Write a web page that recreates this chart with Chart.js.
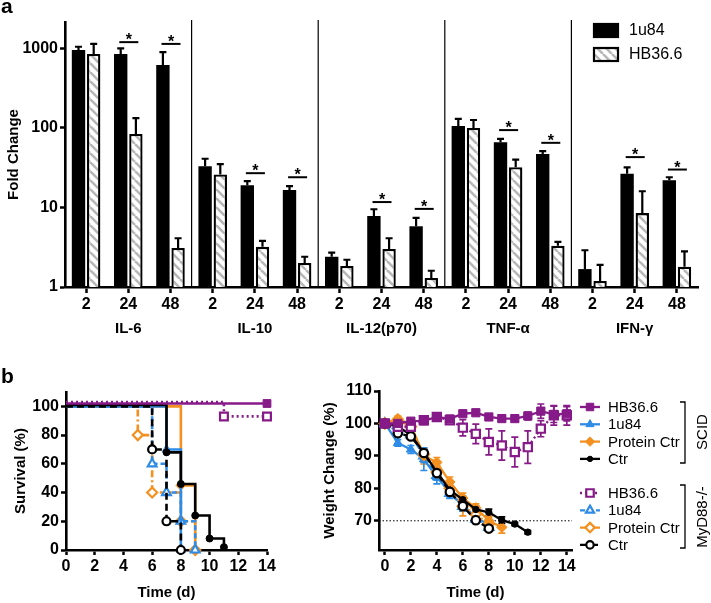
<!DOCTYPE html>
<html><head><meta charset="utf-8">
<script src="https://cdn.jsdelivr.net/npm/chart.js@4.4.1/dist/chart.umd.min.js"></script>
<style>
html,body{margin:0;padding:0;background:#fff;}
#wrap{position:relative;width:711px;height:603px;overflow:hidden;font-family:"Liberation Sans",Arial,sans-serif;}
canvas{position:absolute;}
.lbl{position:absolute;font-weight:bold;font-size:21px;line-height:21px;color:#000;}
</style></head><body>
<div id="wrap">
<canvas id="cA" width="711" height="345" style="left:0;top:0"></canvas>
<canvas id="cB" width="300" height="258" style="left:0;top:345px"></canvas>
<canvas id="cC" width="411" height="258" style="left:300px;top:345px"></canvas>
<div class="lbl" style="left:1px;top:-5px">a</div>
<div class="lbl" style="left:1px;top:365px">b</div>
</div>
<script>
// ---------------- Panel a data ----------------
const groups = ['IL-6', 'IL-10', 'IL-12(p70)', 'TNF-α', 'IFN-γ'];
const timepoints = ['2', '24', '48'];
const u84Mean  = [955, 850, 620, 33, 19, 16.6, 2.4, 7.8, 5.8, 106, 66, 47, 1.68, 26.5, 22];
const u84Upper = [1050, 1000, 900, 41, 21.5, 18.6, 2.7, 9.5, 7.4, 130, 73, 51, 2.9, 32, 24];
const hbMean   = [850, 84, 3.1, 26, 3.2, 2.0, 1.84, 3.0, 1.3, 100, 32, 3.3, 1.19, 8.5, 1.8];
const hbUpper  = [1140, 133, 4.1, 35, 3.8, 2.4, 2.2, 4.1, 1.6, 126, 40, 3.7, 1.9, 16, 2.8];
const sigLevel = [null, 1200, 1140, null, 27, 24, null, 11.7, 9.6, null, 94, 65, null, 43, 30];
const foldTicks = [1, 10, 100, 1000];

// ---------------- Panel b (survival) data ----------------
const survScidHB_t = [0, 14],               survScidHB_v = [102, 102];
const survMyHB_t   = [0, 11, 14],           survMyHB_v   = [103, 93, 93];
const survScidU84_t = [0, 7, 8],            survScidU84_v = [100, 70, 0];
const survMyU84_t  = [0, 6, 7, 8, 9],       survMyU84_v  = [100, 60, 40, 20, 0];
const survScidProt_t = [0, 8, 9],           survScidProt_v = [100, 45, 0];
const survMyProt_t = [0, 5, 6, 8, 9],       survMyProt_v = [100, 80, 40, 20, 0];
const survScidCtr_t = [0, 7, 8, 9, 10, 11], survScidCtr_v = [101, 68, 46, 24, 8, 2];
const survMyCtr_t  = [0, 6, 7, 8],          survMyCtr_v  = [100, 70, 20, 0];
const survTicksY = [0, 20, 40, 60, 80, 100];
const survTicksX = [0, 2, 4, 6, 8, 10, 12, 14];

// ---------------- Panel b (weight) data ----------------
const days = [0, 1, 2, 3, 4, 5, 6, 7, 8, 9, 10, 11, 12, 13, 14];
const wScidHB    = [100, 100, 100.7, 100.8, 102, 101.4, 103, 103.3, 102, 101.5, 101.5, 102.3, 103.8, 102.8, 103];
const wScidHBErr = [0, 0.5, 0.5, 0.5, 0.8, 0.8, 0.7, 0.6, 0.8, 0.8, 0.8, 1.2, 2.2, 2.5, 2.2];
const wMyHB      = [100, 99, 99, 101, 102, 101, 98.7, 96.8, 94.3, 93.2, 91.2, 92.7, 98.4, 102.5, 102.5];
const wMyHBErr   = [0, 0.8, 1, 1, 1, 1, 2.5, 3, 4, 4.5, 4.6, 5, 2.5, 3, 3];
const wScidU84    = [100, 94, 92, 89, 83.4, 78.9, 74.5, 71.2, 68.6];
const wScidU84Err = [0, 1, 1.2, 3.5, 2, 2, 1.5, 1.5, 1.5];
const wMyU84      = [100, 97.5, 96.5, 90, 84, 78.5, 74.5, 70.5, 68];
const wMyU84Err   = [0, 0.8, 1, 2, 1.5, 1.5, 1.5, 1.2, 1];
const wScidProt    = [100, 101.5, 99.5, 90, 88, 82, 77, 74, 70, 68];
const wScidProtErr = [0, 0.8, 1, 2.5, 1.5, 1.5, 1.5, 1.2, 1.5, 1.8];
const wMyProt      = [100, 101, 99, 90.5, 85, 80, 74.5, 72, 69];
const wMyProtErr   = [0, 0.8, 1, 2, 2, 2, 3, 2, 2];
const wScidCtr    = [100, 99, 96.5, 91, 85, 79.5, 76.5, 73.5, 72.6, 70.2, 69, 66.5];
const wScidCtrErr = [0, 0.5, 0.6, 1, 1, 1, 1, 1, 1, 1, 0.5, 0.5];
const wMyCtr      = [100, 97, 96, 90.9, 84.7, 78.9, 74.5, 70.2, 67.6];
const wMyCtrErr   = [0, 0.5, 0.6, 1, 1, 1, 1, 1, 0.8];
const weightTicksX = [0, 2, 4, 6, 8, 10, 12, 14];
const weightTicksY = [70, 80, 90, 100, 110];

// ---------------- styles ----------------
const FONT = "'Liberation Sans', Arial, Helvetica, sans-serif";
Chart.defaults.font.family = FONT;
Chart.defaults.color = '#000';
const PURPLE = '#861a88', BLUE = '#2e8be6', ORANGE = '#f39020', BLACK = '#000';
const tickFont = {family: FONT, size: 16, weight: 'bold'};
const titleFont = {family: FONT, size: 15, weight: 'bold'};

function hatchPattern() {
  const c = document.createElement('canvas'); c.width = 9; c.height = 9;
  const g = c.getContext('2d');
  g.fillStyle = '#fff'; g.fillRect(0, 0, 9, 9);
  g.strokeStyle = '#b8b8b8'; g.lineWidth = 2.6;
  for (const o of [-9, 0, 9]) { g.beginPath(); g.moveTo(o, 0); g.lineTo(o + 9, 9); g.stroke(); }
  return g.createPattern(c, 'repeat');
}
const HATCH = hatchPattern();

const categories = [];
groups.forEach(() => timepoints.forEach(t => categories.push(t)));

function axisCommon() {
  return {
    grid: {display: true, drawOnChartArea: false, drawTicks: true, tickLength: 5, tickWidth: 2.5, tickColor: '#000'},
    border: {display: true, color: '#000', width: 2.6},
  };
}

// ---------------- Chart A ----------------
const panelAPlugin = {
  id: 'panelA',
  afterDatasetsDraw(chart) {
    const {ctx, chartArea: ca, scales: {x, y}} = chart;
    ctx.save();
    [u84Upper, hbUpper].forEach((up, di) => {
      chart.getDatasetMeta(di).data.forEach((bar, j) => {
        const yt = y.getPixelForValue(up[j]);
        ctx.strokeStyle = '#000'; ctx.lineWidth = 2.2;
        ctx.beginPath();
        ctx.moveTo(bar.x, bar.y); ctx.lineTo(bar.x, yt);
        ctx.moveTo(bar.x - 3.5, yt); ctx.lineTo(bar.x + 3.5, yt);
        ctx.stroke();
      });
    });
    ctx.lineWidth = 1.2;
    for (let g = 1; g < groups.length; g++) {
      const xs = (x.getPixelForValue(3 * g - 1) + x.getPixelForValue(3 * g)) / 2;
      ctx.beginPath(); ctx.moveTo(xs, ca.top - 2); ctx.lineTo(xs, ca.bottom); ctx.stroke();
    }
    ctx.fillStyle = '#000';
    ctx.font = 'bold 16px ' + FONT;
    ctx.textAlign = 'center'; ctx.textBaseline = 'alphabetic';
    sigLevel.forEach((lv, j) => {
      if (lv == null) return;
      const xc = x.getPixelForValue(j), yy = y.getPixelForValue(lv);
      ctx.lineWidth = 2;
      ctx.beginPath(); ctx.moveTo(xc - 9, yy); ctx.lineTo(xc + 10, yy); ctx.stroke();
      ctx.fillText('*', xc + 0.5, yy + 3);
    });
    ctx.font = 'bold 15px ' + FONT;
    ctx.textBaseline = 'middle';
    groups.forEach((g, i) => ctx.fillText(g, x.getPixelForValue(3 * i + 1), 329));
    ctx.textAlign = 'left';
    ctx.font = '16px ' + FONT;
    chart.data.datasets.forEach((ds, i) => {
      const ly = 24 + i * 24;
      ctx.fillStyle = ds.backgroundColor;
      ctx.fillRect(594, ly, 24, 13);
      ctx.strokeStyle = '#000'; ctx.lineWidth = 2.2;
      ctx.strokeRect(594, ly, 24, 13);
      ctx.fillStyle = '#000';
      ctx.fillText(ds.label, 629, ly + 7);
    });
    ctx.restore();
  }
};

new Chart(document.getElementById('cA'), {
  type: 'bar',
  data: {
    labels: categories,
    datasets: [
      {label: '1u84', data: u84Mean, backgroundColor: '#000', borderColor: '#000', borderWidth: 0,
       categoryPercentage: 0.72, barPercentage: 0.88},
      {label: 'HB36.6', data: hbMean, backgroundColor: HATCH, borderColor: '#000', borderWidth: 2.3,
       categoryPercentage: 0.72, barPercentage: 0.88}
    ]
  },
  options: {
    responsive: false, animation: false, devicePixelRatio: 1,
    layout: {padding: {top: 22, right: 13, left: 0, bottom: 0}},
    plugins: {legend: {display: false}, tooltip: {enabled: false}},
    scales: {
      x: Object.assign(axisCommon(), {
        type: 'category', offset: true,
        grid: {display: true, offset: false, drawOnChartArea: false, drawTicks: true, tickLength: 6, tickWidth: 2.5, tickColor: '#000'},
        ticks: {font: tickFont, color: '#000', padding: 2, maxRotation: 0, autoSkip: false},
        afterFit(s) { s.height = 58; }
      }),
      y: Object.assign(axisCommon(), {
        type: 'logarithmic', min: 1, max: 2150,
        afterBuildTicks(a) { a.ticks = foldTicks.map(v => ({value: v})); },
        ticks: {font: tickFont, color: '#000', padding: 2, callback: v => String(v)},
        title: {display: true, text: 'Fold Change', color: '#000', font: {family: FONT, size: 15, weight: 'bold'}, padding: {top: 5, bottom: 0}},
        afterFit(s) { s.width = 65; }
      })
    }
  },
  plugins: [panelAPlugin]
});

// ---------------- helpers for panel b ----------------
function pts(xs, ys) { return ys.map((v, i) => ({x: xs[i], y: v})); }
function styleOf(color, style, open, radius, dash) {
  return {
    borderColor: color, borderWidth: 2.6, borderDash: dash || [],
    pointStyle: style, pointRadius: radius, pointHoverRadius: radius,
    pointBackgroundColor: open ? '#fff' : color, pointBorderColor: color,
    pointBorderWidth: open ? 2.2 : 1, fill: false, clip: false
  };
}
const DOT = [2, 3], DASH = [7, 4], BDASH = [5, 3], DASHDOT = [7, 3, 2, 3];

// ---------------- Chart B (survival) ----------------
function survSet(label, t, v, color, style, open, r, dash) {
  const s = styleOf(color, style, open, r, dash);
  s.pointRadius = c => (c.dataIndex === 0 ? 0 : r);
  return Object.assign({label, data: pts(t, v), stepped: 'before'}, s);
}
new Chart(document.getElementById('cB'), {
  type: 'line',
  data: {datasets: [
    survSet('MyD88 HB36.6', survMyHB_t, survMyHB_v, PURPLE, 'rect', true, 5.5, DOT),
    survSet('SCID HB36.6', survScidHB_t, survScidHB_v, PURPLE, 'rect', false, 5.5, null),
    survSet('SCID Ctr', survScidCtr_t, survScidCtr_v, BLACK, 'circle', false, 3.5, null),
    survSet('MyD88 Ctr', survMyCtr_t, survMyCtr_v, BLACK, 'circle', true, 4, DASH),
    survSet('SCID 1u84', survScidU84_t, survScidU84_v, BLUE, 'triangle', false, 5, null),
    survSet('MyD88 1u84', survMyU84_t, survMyU84_v, BLUE, 'triangle', true, 5, BDASH),
    survSet('SCID Protein Ctr', survScidProt_t, survScidProt_v, ORANGE, 'rectRot', false, 5, null),
    survSet('MyD88 Protein Ctr', survMyProt_t, survMyProt_v, ORANGE, 'rectRot', true, 5, DASHDOT)
  ]},
  options: {
    responsive: false, animation: false, devicePixelRatio: 1,
    layout: {padding: {top: 47, right: 33, left: 0, bottom: 0}},
    plugins: {legend: {display: false}, tooltip: {enabled: false}},
    scales: {
      x: Object.assign(axisCommon(), {
        type: 'linear', min: 0, max: 14,
        afterBuildTicks(a) { a.ticks = survTicksX.map(v => ({value: v})); },
        ticks: {font: tickFont, color: '#000', padding: 2, maxRotation: 0},
        title: {display: true, text: 'Time (d)', color: '#000', font: titleFont, padding: {top: 0, bottom: 1}},
        afterFit(s) { s.height = 53; }
      }),
      y: Object.assign(axisCommon(), {
        type: 'linear', min: 0, max: 110,
        afterBuildTicks(a) { a.ticks = survTicksY.map(v => ({value: v})); },
        ticks: {font: tickFont, color: '#000', padding: 2},
        title: {display: true, text: 'Survival (%)', color: '#000', font: titleFont, padding: {top: 12, bottom: 0}},
        afterFit(s) { s.width = 66; }
      })
    }
  }
});

// ---------------- Chart C (weight) ----------------
function wSet(label, group, vals, errs, color, style, open, r, dash) {
  return Object.assign({label, group, errors: errs, data: pts(days, vals)}, styleOf(color, style, open, r, dash), {borderWidth: 2.3});
}
const weightSets = [
  wSet('HB36.6', 'SCID', wScidHB, wScidHBErr, PURPLE, 'rect', false, 5.8, null),
  wSet('HB36.6', 'MyD88', wMyHB, wMyHBErr, PURPLE, 'rect', true, 5.8, DOT),
  wSet('Ctr', 'MyD88', wMyCtr, wMyCtrErr, BLACK, 'circle', true, 4.2, DASH),
  wSet('Ctr', 'SCID', wScidCtr, wScidCtrErr, BLACK, 'circle', false, 3.2, null),
  wSet('Protein Ctr', 'SCID', wScidProt, wScidProtErr, ORANGE, 'rectRot', false, 5.2, null),
  wSet('Protein Ctr', 'MyD88', wMyProt, wMyProtErr, ORANGE, 'rectRot', true, 5.2, DASHDOT),
  wSet('1u84', 'SCID', wScidU84, wScidU84Err, BLUE, 'triangle', false, 5.2, null),
  wSet('1u84', 'MyD88', wMyU84, wMyU84Err, BLUE, 'triangle', true, 5.2, BDASH)
];
const legendOrder = ['HB36.6', '1u84', 'Protein Ctr', 'Ctr'];

const panelCPlugin = {
  id: 'panelC',
  beforeDatasetsDraw(chart) {
    const {ctx, chartArea: ca, scales: {x, y}} = chart;
    ctx.save();
    const y70 = y.getPixelForValue(70);
    ctx.strokeStyle = '#000'; ctx.lineWidth = 1; ctx.setLineDash([1.5, 2]);
    ctx.beginPath(); ctx.moveTo(ca.left, y70); ctx.lineTo(ca.right, y70); ctx.stroke();
    ctx.setLineDash([]);
    chart.data.datasets.forEach(ds => {
      ctx.strokeStyle = ds.borderColor; ctx.lineWidth = 1.7;
      ds.data.forEach((p, j) => {
        const e = ds.errors[j]; if (!e) return;
        const px = x.getPixelForValue(p.x), y1 = y.getPixelForValue(p.y + e), y2 = y.getPixelForValue(p.y - e);
        ctx.beginPath();
        ctx.moveTo(px, y1); ctx.lineTo(px, y2);
        ctx.moveTo(px - 3.5, y1); ctx.lineTo(px + 3.5, y1);
        ctx.moveTo(px - 3.5, y2); ctx.lineTo(px + 3.5, y2);
        ctx.stroke();
      });
    });
    ctx.restore();
  },
  afterDraw(chart) {
    const {ctx} = chart;
    ctx.save();
    ctx.font = '15px ' + FONT; ctx.textBaseline = 'middle'; ctx.textAlign = 'left';
    ['SCID', 'MyD88'].forEach((grp, gi) => {
      legendOrder.forEach((lab, k) => {
        const ds = chart.data.datasets.find(d => d.group === grp && d.label === lab);
        const ly = (gi === 0 ? 62 : 148) + k * 17.3;
        ctx.strokeStyle = ds.borderColor; ctx.lineWidth = 2.3; ctx.setLineDash(ds.borderDash || []);
        ctx.beginPath(); ctx.moveTo(280, ly); ctx.lineTo(300, ly); ctx.stroke();
        ctx.setLineDash([]);
        ctx.fillStyle = ds.pointBackgroundColor; ctx.strokeStyle = ds.pointBorderColor;
        ctx.lineWidth = ds.pointBorderWidth;
        Chart.helpers.drawPoint(ctx, {pointStyle: ds.pointStyle, radius: ds.pointRadius - 0.5, rotation: 0, borderWidth: ds.pointBorderWidth}, 290, ly);
        ctx.fillStyle = '#000';
        ctx.fillText(lab, 308, ly + 1);
      });
    });
    ctx.strokeStyle = '#000'; ctx.lineWidth = 1.3;
    [[57, 118], [140, 203]].forEach(([a, b]) => {
      ctx.beginPath();
      ctx.moveTo(380, a); ctx.lineTo(385, a); ctx.lineTo(385, b); ctx.lineTo(380, b);
      ctx.stroke();
    });
    ctx.fillStyle = '#000'; ctx.textAlign = 'center';
    [['SCID', 87], ['MyD88-/-', 172]].forEach(([t, cy]) => {
      ctx.save(); ctx.translate(403, cy); ctx.rotate(-Math.PI / 2);
      ctx.fillText(t, 0, 0); ctx.restore();
    });
    ctx.restore();
  }
};

new Chart(document.getElementById('cC'), {
  type: 'line',
  data: {datasets: weightSets},
  options: {
    responsive: false, animation: false, devicePixelRatio: 1,
    layout: {padding: {top: 46, right: 139, left: 0, bottom: 0}},
    plugins: {legend: {display: false}, tooltip: {enabled: false}},
    scales: {
      x: Object.assign(axisCommon(), {
        type: 'linear', min: -0.45, max: 14.4,
        afterBuildTicks(a) { a.ticks = weightTicksX.map(v => ({value: v})); },
        ticks: {font: tickFont, color: '#000', padding: 2, maxRotation: 0},
        title: {display: true, text: 'Time (d)', color: '#000', font: titleFont, padding: {top: 0, bottom: 1}},
        afterFit(s) { s.height = 53; }
      }),
      y: Object.assign(axisCommon(), {
        type: 'linear', min: 61, max: 110,
        afterBuildTicks(a) { a.ticks = weightTicksY.map(v => ({value: v})); },
        ticks: {font: tickFont, color: '#000', padding: 2},
        title: {display: true, text: 'Weight Change (%)', color: '#000', font: titleFont, padding: {top: 21, bottom: 0}},
        afterFit(s) { s.width = 79; }
      })
    }
  },
  plugins: [panelCPlugin]
});
</script>
</body></html>
